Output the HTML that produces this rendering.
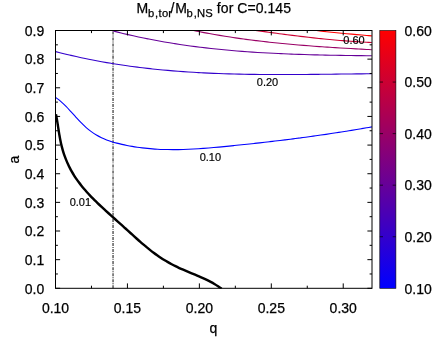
<!DOCTYPE html>
<html><head><meta charset="utf-8"><title>plot</title>
<style>
html,body{margin:0;padding:0;background:#fff;}
body{width:436px;height:337px;overflow:hidden;}
svg{display:block;will-change:transform;}
text{font-family:"Liberation Sans",sans-serif;fill:#000;stroke:#000;stroke-width:0.25px;}
.t{font-size:14px;}
.l{font-size:11px;stroke-width:0.18px;}
</style></head><body>
<svg width="436" height="337" viewBox="0 0 436 337">
<defs><linearGradient id="g" x1="0" y1="1" x2="0" y2="0"><stop offset="0" stop-color="#0000ff"/><stop offset="1" stop-color="#ff0000"/></linearGradient>
<clipPath id="cp"><rect x="55.50" y="30.50" width="316.50" height="258.30"/></clipPath></defs>
<rect width="436" height="337" fill="#fff"/>
<line x1="113.05" y1="30.50" x2="113.05" y2="288.30" stroke="#000" stroke-opacity="0.64" stroke-width="1.5" stroke-dasharray="3.1 1.0 0.9 1.045" stroke-dashoffset="5.145"/>
<g clip-path="url(#cp)" fill="none">
<path d="M55.93 114.20 C56.07 114.90 56.47 116.99 56.72 118.39 C56.97 119.79 57.20 121.20 57.43 122.61 C57.66 124.02 57.87 125.43 58.09 126.84 C58.31 128.26 58.52 129.67 58.75 131.08 C58.97 132.50 59.20 133.91 59.44 135.32 C59.68 136.73 59.93 138.14 60.21 139.54 C60.48 140.94 60.77 142.34 61.09 143.74 C61.41 145.13 61.76 146.52 62.13 147.90 C62.50 149.28 62.91 150.66 63.33 152.02 C63.76 153.39 64.22 154.74 64.70 156.09 C65.19 157.43 65.70 158.77 66.24 160.09 C66.78 161.42 67.34 162.73 67.94 164.02 C68.53 165.32 69.15 166.60 69.80 167.87 C70.45 169.14 71.12 170.39 71.82 171.63 C72.53 172.86 73.26 174.08 74.01 175.28 C74.76 176.48 75.55 177.67 76.35 178.84 C77.15 180.00 77.98 181.16 78.83 182.30 C79.67 183.44 80.54 184.56 81.43 185.67 C82.32 186.79 83.23 187.88 84.15 188.97 C85.07 190.06 86.02 191.13 86.97 192.20 C87.93 193.26 88.90 194.31 89.88 195.35 C90.87 196.40 91.87 197.43 92.87 198.45 C93.88 199.47 94.90 200.49 95.93 201.49 C96.95 202.50 97.99 203.50 99.03 204.49 C100.08 205.48 101.13 206.47 102.18 207.45 C103.23 208.43 104.29 209.40 105.35 210.37 C106.41 211.34 107.48 212.30 108.54 213.26 C109.61 214.22 110.67 215.18 111.74 216.13 C112.80 217.09 113.86 218.04 114.92 218.99 C115.98 219.94 117.04 220.89 118.09 221.84 C119.15 222.79 120.21 223.74 121.26 224.68 C122.32 225.63 123.37 226.58 124.42 227.54 C125.48 228.49 126.53 229.44 127.59 230.40 C128.64 231.35 129.69 232.31 130.75 233.27 C131.81 234.23 132.86 235.19 133.92 236.15 C134.99 237.11 136.05 238.07 137.12 239.02 C138.18 239.97 139.26 240.92 140.33 241.86 C141.41 242.81 142.50 243.74 143.59 244.67 C144.68 245.60 145.78 246.52 146.88 247.43 C147.99 248.33 149.11 249.23 150.23 250.12 C151.36 251.00 152.49 251.87 153.64 252.73 C154.79 253.58 155.94 254.42 157.12 255.25 C158.29 256.07 159.47 256.87 160.66 257.66 C161.86 258.45 163.06 259.22 164.28 259.97 C165.49 260.72 166.72 261.45 167.96 262.16 C169.19 262.87 170.44 263.56 171.69 264.24 C172.95 264.91 174.21 265.56 175.48 266.19 C176.76 266.82 178.04 267.42 179.32 268.02 C180.61 268.61 181.91 269.18 183.21 269.74 C184.51 270.31 185.82 270.86 187.13 271.41 C188.44 271.97 189.76 272.51 191.08 273.06 C192.40 273.61 193.72 274.15 195.04 274.71 C196.36 275.26 197.69 275.82 199.00 276.39 C200.32 276.96 201.63 277.53 202.94 278.12 C204.24 278.72 205.54 279.32 206.82 279.95 C208.11 280.57 209.39 281.21 210.65 281.88 C211.91 282.55 213.17 283.24 214.40 283.96 C215.63 284.68 216.85 285.43 218.05 286.21 C219.24 286.99 220.99 288.24 221.57 288.65" stroke="#000" stroke-width="2.45"/>
<path d="M55.60 97.48 C56.45 98.12 59.00 99.89 60.70 101.34 C62.40 102.78 64.10 104.46 65.80 106.18 C67.50 107.89 69.20 109.77 70.90 111.62 C72.61 113.46 74.31 115.41 76.01 117.26 C77.71 119.11 79.41 120.99 81.11 122.71 C82.81 124.43 84.51 126.10 86.21 127.59 C87.91 129.08 89.61 130.43 91.31 131.66 C93.01 132.90 94.71 133.99 96.41 135.00 C98.11 136.01 99.81 136.90 101.51 137.71 C103.22 138.53 104.92 139.24 106.62 139.90 C108.32 140.56 110.02 141.13 111.72 141.67 C113.42 142.20 115.12 142.67 116.82 143.11 C118.52 143.56 120.22 143.96 121.92 144.35 C123.62 144.73 125.32 145.09 127.02 145.43 C128.72 145.77 130.42 146.08 132.12 146.37 C133.82 146.66 135.53 146.93 137.23 147.18 C138.93 147.43 140.63 147.65 142.33 147.86 C144.03 148.06 145.73 148.25 147.43 148.42 C149.13 148.58 150.83 148.73 152.53 148.86 C154.23 148.99 155.93 149.10 157.63 149.20 C159.33 149.29 161.03 149.37 162.73 149.43 C164.43 149.49 166.13 149.53 167.84 149.57 C169.54 149.60 171.24 149.61 172.94 149.61 C174.64 149.62 176.34 149.60 178.04 149.58 C179.74 149.55 181.44 149.52 183.14 149.47 C184.84 149.42 186.54 149.36 188.24 149.29 C189.94 149.22 191.64 149.13 193.34 149.04 C195.04 148.95 196.74 148.85 198.45 148.74 C200.15 148.63 201.85 148.51 203.55 148.39 C205.25 148.26 206.95 148.13 208.65 147.99 C210.35 147.85 212.05 147.71 213.75 147.56 C215.45 147.41 217.15 147.25 218.85 147.09 C220.55 146.93 222.25 146.77 223.95 146.60 C225.65 146.44 227.35 146.27 229.05 146.09 C230.76 145.92 232.46 145.75 234.16 145.57 C235.86 145.40 237.56 145.22 239.26 145.04 C240.96 144.87 242.66 144.69 244.36 144.51 C246.06 144.33 247.76 144.14 249.46 143.96 C251.16 143.78 252.86 143.59 254.56 143.40 C256.26 143.22 257.96 143.03 259.66 142.84 C261.37 142.65 263.07 142.45 264.77 142.26 C266.47 142.07 268.17 141.87 269.87 141.67 C271.57 141.47 273.27 141.27 274.97 141.07 C276.67 140.87 278.37 140.67 280.07 140.46 C281.77 140.26 283.47 140.05 285.17 139.84 C286.87 139.63 288.57 139.42 290.27 139.20 C291.97 138.99 293.68 138.77 295.38 138.55 C297.08 138.33 298.78 138.11 300.48 137.89 C302.18 137.66 303.88 137.44 305.58 137.21 C307.28 136.98 308.98 136.75 310.68 136.52 C312.38 136.28 314.08 136.05 315.78 135.81 C317.48 135.57 319.18 135.33 320.88 135.08 C322.58 134.84 324.28 134.59 325.99 134.34 C327.69 134.09 329.39 133.84 331.09 133.58 C332.79 133.33 334.49 133.07 336.19 132.81 C337.89 132.55 339.59 132.28 341.29 132.02 C342.99 131.75 344.69 131.48 346.39 131.21 C348.09 130.93 349.79 130.66 351.49 130.38 C353.19 130.10 354.89 129.81 356.60 129.53 C358.30 129.24 360.00 128.95 361.70 128.66 C363.40 128.37 365.10 128.07 366.80 127.77 C368.50 127.47 371.05 127.01 371.90 126.86" stroke="#0000ff" stroke-width="1.1"/>
<path d="M55.75 51.61 C56.60 51.83 59.15 52.49 60.85 52.92 C62.55 53.35 64.25 53.77 65.95 54.18 C67.64 54.59 69.34 55.00 71.04 55.39 C72.74 55.79 74.44 56.18 76.14 56.56 C77.84 56.94 79.54 57.31 81.24 57.67 C82.94 58.04 84.64 58.40 86.34 58.74 C88.03 59.09 89.73 59.44 91.43 59.77 C93.13 60.11 94.83 60.43 96.53 60.75 C98.23 61.07 99.93 61.39 101.63 61.69 C103.33 62.00 105.03 62.30 106.73 62.59 C108.42 62.88 110.12 63.17 111.82 63.45 C113.52 63.73 115.22 64.00 116.92 64.27 C118.62 64.53 120.32 64.79 122.02 65.04 C123.72 65.30 125.42 65.54 127.12 65.78 C128.82 66.02 130.51 66.26 132.21 66.48 C133.91 66.71 135.61 66.93 137.31 67.15 C139.01 67.36 140.71 67.57 142.41 67.78 C144.11 67.98 145.81 68.18 147.51 68.37 C149.21 68.56 150.90 68.75 152.60 68.93 C154.30 69.11 156.00 69.29 157.70 69.46 C159.40 69.63 161.10 69.79 162.80 69.95 C164.50 70.11 166.20 70.27 167.90 70.42 C169.60 70.57 171.30 70.71 172.99 70.85 C174.69 70.99 176.39 71.13 178.09 71.26 C179.79 71.39 181.49 71.51 183.19 71.63 C184.89 71.75 186.59 71.87 188.29 71.98 C189.99 72.09 191.69 72.20 193.38 72.30 C195.08 72.41 196.78 72.50 198.48 72.60 C200.18 72.69 201.88 72.78 203.58 72.87 C205.28 72.96 206.98 73.04 208.68 73.12 C210.38 73.20 212.08 73.27 213.78 73.34 C215.47 73.41 217.17 73.48 218.87 73.54 C220.57 73.61 222.27 73.67 223.97 73.72 C225.67 73.78 227.37 73.83 229.07 73.88 C230.77 73.93 232.47 73.98 234.17 74.02 C235.86 74.07 237.56 74.11 239.26 74.14 C240.96 74.18 242.66 74.22 244.36 74.25 C246.06 74.28 247.76 74.31 249.46 74.34 C251.16 74.36 252.86 74.39 254.56 74.41 C256.25 74.43 257.95 74.45 259.65 74.46 C261.35 74.48 263.05 74.49 264.75 74.51 C266.45 74.52 268.15 74.53 269.85 74.53 C271.55 74.54 273.25 74.55 274.95 74.55 C276.65 74.56 278.34 74.56 280.04 74.56 C281.74 74.56 283.44 74.55 285.14 74.55 C286.84 74.55 288.54 74.54 290.24 74.54 C291.94 74.53 293.64 74.52 295.34 74.51 C297.04 74.50 298.73 74.49 300.43 74.48 C302.13 74.47 303.83 74.46 305.53 74.44 C307.23 74.43 308.93 74.42 310.63 74.40 C312.33 74.38 314.03 74.37 315.73 74.35 C317.43 74.33 319.12 74.32 320.82 74.30 C322.52 74.28 324.22 74.26 325.92 74.24 C327.62 74.22 329.32 74.20 331.02 74.18 C332.72 74.16 334.42 74.14 336.12 74.12 C337.82 74.10 339.52 74.08 341.21 74.06 C342.91 74.04 344.61 74.02 346.31 74.00 C348.01 73.98 349.71 73.96 351.41 73.94 C353.11 73.92 354.81 73.90 356.51 73.88 C358.21 73.86 359.91 73.84 361.60 73.83 C363.30 73.81 365.00 73.79 366.70 73.77 C368.40 73.76 370.95 73.74 371.80 73.73" stroke="#3300cc" stroke-width="1.1"/>
<path d="M112.50 30.81 C113.36 31.03 115.96 31.71 117.69 32.14 C119.41 32.57 121.14 33.00 122.87 33.41 C124.60 33.83 126.33 34.24 128.06 34.64 C129.79 35.04 131.52 35.43 133.24 35.82 C134.97 36.20 136.70 36.58 138.43 36.95 C140.16 37.32 141.89 37.68 143.62 38.04 C145.34 38.39 147.07 38.74 148.80 39.08 C150.53 39.42 152.26 39.75 153.99 40.08 C155.72 40.40 157.45 40.72 159.17 41.03 C160.90 41.35 162.63 41.65 164.36 41.95 C166.09 42.25 167.82 42.54 169.55 42.82 C171.27 43.11 173.00 43.39 174.73 43.66 C176.46 43.93 178.19 44.19 179.92 44.45 C181.65 44.71 183.38 44.97 185.10 45.21 C186.83 45.46 188.56 45.70 190.29 45.93 C192.02 46.17 193.75 46.40 195.48 46.62 C197.20 46.84 198.93 47.06 200.66 47.27 C202.39 47.48 204.12 47.69 205.85 47.89 C207.58 48.09 209.31 48.28 211.03 48.47 C212.76 48.66 214.49 48.85 216.22 49.03 C217.95 49.21 219.68 49.38 221.41 49.55 C223.13 49.72 224.86 49.88 226.59 50.04 C228.32 50.20 230.05 50.36 231.78 50.51 C233.51 50.66 235.24 50.80 236.96 50.94 C238.69 51.08 240.42 51.22 242.15 51.35 C243.88 51.48 245.61 51.61 247.34 51.74 C249.06 51.86 250.79 51.98 252.52 52.10 C254.25 52.21 255.98 52.32 257.71 52.43 C259.44 52.54 261.17 52.64 262.89 52.74 C264.62 52.84 266.35 52.94 268.08 53.03 C269.81 53.13 271.54 53.22 273.27 53.31 C274.99 53.39 276.72 53.48 278.45 53.56 C280.18 53.64 281.91 53.71 283.64 53.79 C285.37 53.86 287.10 53.93 288.82 54.00 C290.55 54.07 292.28 54.13 294.01 54.20 C295.74 54.26 297.47 54.32 299.20 54.38 C300.92 54.44 302.65 54.49 304.38 54.54 C306.11 54.60 307.84 54.65 309.57 54.70 C311.30 54.74 313.03 54.79 314.75 54.84 C316.48 54.88 318.21 54.92 319.94 54.96 C321.67 55.00 323.40 55.04 325.13 55.08 C326.85 55.12 328.58 55.15 330.31 55.19 C332.04 55.22 333.77 55.25 335.50 55.28 C337.23 55.31 338.96 55.34 340.68 55.37 C342.41 55.40 344.14 55.43 345.87 55.46 C347.60 55.48 349.33 55.51 351.06 55.53 C352.78 55.56 354.51 55.58 356.24 55.60 C357.97 55.63 359.70 55.65 361.43 55.67 C363.16 55.69 364.89 55.71 366.61 55.74 C368.34 55.76 370.94 55.79 371.80 55.80" stroke="#660099" stroke-width="1.1"/>
<path d="M193.50 30.52 C194.37 30.70 197.00 31.23 198.74 31.58 C200.49 31.93 202.24 32.26 203.99 32.59 C205.74 32.93 207.48 33.25 209.23 33.57 C210.98 33.89 212.73 34.20 214.48 34.50 C216.22 34.81 217.97 35.10 219.72 35.40 C221.47 35.69 223.22 35.97 224.96 36.25 C226.71 36.53 228.46 36.81 230.21 37.07 C231.96 37.34 233.70 37.60 235.45 37.86 C237.20 38.12 238.95 38.37 240.70 38.61 C242.45 38.86 244.19 39.10 245.94 39.33 C247.69 39.56 249.44 39.79 251.19 40.02 C252.93 40.24 254.68 40.46 256.43 40.67 C258.18 40.89 259.93 41.10 261.67 41.30 C263.42 41.50 265.17 41.70 266.92 41.90 C268.67 42.09 270.41 42.28 272.16 42.47 C273.91 42.66 275.66 42.84 277.41 43.02 C279.15 43.19 280.90 43.37 282.65 43.54 C284.40 43.71 286.15 43.87 287.89 44.03 C289.64 44.19 291.39 44.35 293.14 44.51 C294.89 44.66 296.63 44.81 298.38 44.96 C300.13 45.11 301.88 45.25 303.63 45.39 C305.37 45.53 307.12 45.67 308.87 45.81 C310.62 45.94 312.37 46.07 314.11 46.20 C315.86 46.33 317.61 46.46 319.36 46.58 C321.11 46.71 322.85 46.83 324.60 46.95 C326.35 47.06 328.10 47.18 329.85 47.29 C331.60 47.41 333.34 47.52 335.09 47.63 C336.84 47.74 338.59 47.85 340.34 47.95 C342.08 48.06 343.83 48.16 345.58 48.27 C347.33 48.37 349.08 48.47 350.82 48.57 C352.57 48.67 354.32 48.77 356.07 48.86 C357.82 48.96 359.56 49.06 361.31 49.15 C363.06 49.25 364.81 49.34 366.56 49.43 C368.30 49.52 370.93 49.66 371.80 49.71" stroke="#990066" stroke-width="1.1"/>
<path d="M255.50 30.41 C256.38 30.53 259.02 30.91 260.79 31.15 C262.55 31.40 264.31 31.65 266.07 31.89 C267.83 32.13 269.60 32.37 271.36 32.61 C273.12 32.85 274.88 33.09 276.65 33.33 C278.41 33.56 280.17 33.80 281.93 34.03 C283.69 34.26 285.46 34.49 287.22 34.71 C288.98 34.94 290.74 35.16 292.50 35.38 C294.27 35.60 296.03 35.82 297.79 36.04 C299.55 36.25 301.32 36.46 303.08 36.67 C304.84 36.88 306.60 37.08 308.36 37.28 C310.13 37.48 311.89 37.68 313.65 37.87 C315.41 38.06 317.17 38.25 318.94 38.44 C320.70 38.62 322.46 38.81 324.22 38.98 C325.98 39.16 327.75 39.33 329.51 39.50 C331.27 39.67 333.03 39.83 334.80 39.99 C336.56 40.14 338.32 40.30 340.08 40.45 C341.84 40.59 343.61 40.74 345.37 40.87 C347.13 41.01 348.89 41.14 350.65 41.27 C352.42 41.40 354.18 41.52 355.94 41.63 C357.70 41.75 359.47 41.86 361.23 41.96 C362.99 42.06 364.75 42.16 366.51 42.25 C368.28 42.34 370.92 42.46 371.80 42.50" stroke="#cc0033" stroke-width="1.1"/>
<path d="M316.50 30.50 C317.34 30.60 319.85 30.91 321.53 31.11 C323.20 31.31 324.88 31.50 326.55 31.68 C328.23 31.87 329.91 32.05 331.58 32.23 C333.26 32.40 334.93 32.57 336.61 32.74 C338.28 32.91 339.96 33.07 341.64 33.23 C343.31 33.39 344.99 33.55 346.66 33.70 C348.34 33.86 350.02 34.01 351.69 34.16 C353.37 34.31 355.04 34.45 356.72 34.60 C358.39 34.75 360.07 34.89 361.75 35.04 C363.42 35.18 365.10 35.33 366.77 35.47 C368.45 35.61 370.96 35.83 371.80 35.90" stroke="#ff0000" stroke-width="1.1"/>
</g>
<rect x="379.80" y="30.50" width="16.10" height="257.80" fill="url(#g)" stroke="#000" stroke-width="0.6"/>
<path d="M379.80 236.74h3.2M395.90 236.74h-3.2M379.80 185.18h3.2M395.90 185.18h-3.2M379.80 133.62h3.2M395.90 133.62h-3.2M379.80 82.06h3.2M395.90 82.06h-3.2" stroke="#000" stroke-width="0.7" fill="none"/>
<path d="M55.50 288.30h4.60M372.00 288.30h-4.60M55.50 273.98h2.40M372.00 273.98h-2.40M55.50 259.66h4.60M372.00 259.66h-4.60M55.50 245.33h2.40M372.00 245.33h-2.40M55.50 231.01h4.60M372.00 231.01h-4.60M55.50 216.69h2.40M372.00 216.69h-2.40M55.50 202.37h4.60M372.00 202.37h-4.60M55.50 188.04h2.40M372.00 188.04h-2.40M55.50 173.72h4.60M372.00 173.72h-4.60M55.50 159.40h2.40M372.00 159.40h-2.40M55.50 145.08h4.60M372.00 145.08h-4.60M55.50 130.76h2.40M372.00 130.76h-2.40M55.50 116.43h4.60M372.00 116.43h-4.60M55.50 102.11h2.40M372.00 102.11h-2.40M55.50 87.79h4.60M372.00 87.79h-4.60M55.50 73.47h2.40M372.00 73.47h-2.40M55.50 59.14h4.60M372.00 59.14h-4.60M55.50 44.82h2.40M372.00 44.82h-2.40M55.50 30.50h4.60M372.00 30.50h-4.60M55.50 288.30v-4.90M55.50 30.50v4.90M91.47 288.30v-2.60M91.47 30.50v2.60M127.43 288.30v-4.90M127.43 30.50v4.90M163.40 288.30v-2.60M163.40 30.50v2.60M199.36 288.30v-4.90M199.36 30.50v4.90M235.33 288.30v-2.60M235.33 30.50v2.60M271.30 288.30v-4.90M271.30 30.50v4.90M307.26 288.30v-2.60M307.26 30.50v2.60M343.23 288.30v-4.90M343.23 30.50v4.90" stroke="#000" stroke-width="1" fill="none"/>
<rect x="55.50" y="30.50" width="316.50" height="257.80" fill="none" stroke="#000" stroke-width="1"/>
<text class="t" x="44.3" y="293.60" text-anchor="end">0.0</text>
<text class="t" x="44.3" y="264.96" text-anchor="end">0.1</text>
<text class="t" x="44.3" y="236.31" text-anchor="end">0.2</text>
<text class="t" x="44.3" y="207.67" text-anchor="end">0.3</text>
<text class="t" x="44.3" y="179.02" text-anchor="end">0.4</text>
<text class="t" x="44.3" y="150.38" text-anchor="end">0.5</text>
<text class="t" x="44.3" y="121.73" text-anchor="end">0.6</text>
<text class="t" x="44.3" y="93.09" text-anchor="end">0.7</text>
<text class="t" x="44.3" y="64.44" text-anchor="end">0.8</text>
<text class="t" x="44.3" y="35.80" text-anchor="end">0.9</text>
<text class="t" x="55.50" y="312.5" text-anchor="middle">0.10</text>
<text class="t" x="127.43" y="312.5" text-anchor="middle">0.15</text>
<text class="t" x="199.36" y="312.5" text-anchor="middle">0.20</text>
<text class="t" x="271.30" y="312.5" text-anchor="middle">0.25</text>
<text class="t" x="343.23" y="312.5" text-anchor="middle">0.30</text>
<text class="t" x="404.5" y="293.50">0.10</text>
<text class="t" x="404.5" y="241.94">0.20</text>
<text class="t" x="404.5" y="190.38">0.30</text>
<text class="t" x="404.5" y="138.82">0.40</text>
<text class="t" x="404.5" y="87.26">0.50</text>
<text class="t" x="404.5" y="35.70">0.60</text>
<text class="t" x="213.5" y="332.5" text-anchor="middle">q</text>
<text class="t" transform="translate(19.2 159.6) rotate(-90)" text-anchor="middle">a</text>
<text class="t" x="136.4" y="12.8">M<tspan font-size="11.2" dy="4.1" dx="0 0.8 0.3 0.4 0">b,tor</tspan><tspan dy="-4.1" dx="-1.4 0.85">/M</tspan><tspan font-size="11.2" dy="4.1" dx="-0.55 1.1 0.17 0.13">b,NS</tspan><tspan dy="-4.1" dx="0.15" letter-spacing="0.06"> for C=0.145</tspan></text>
<text class="l" x="80.4" y="206" text-anchor="middle">0.01</text>
<text class="l" x="210.35" y="160.7" text-anchor="middle">0.10</text>
<text class="l" x="267.5" y="86" text-anchor="middle">0.20</text>
<text class="l" x="354" y="44.2" text-anchor="middle">0.60</text>
</svg></body></html>
